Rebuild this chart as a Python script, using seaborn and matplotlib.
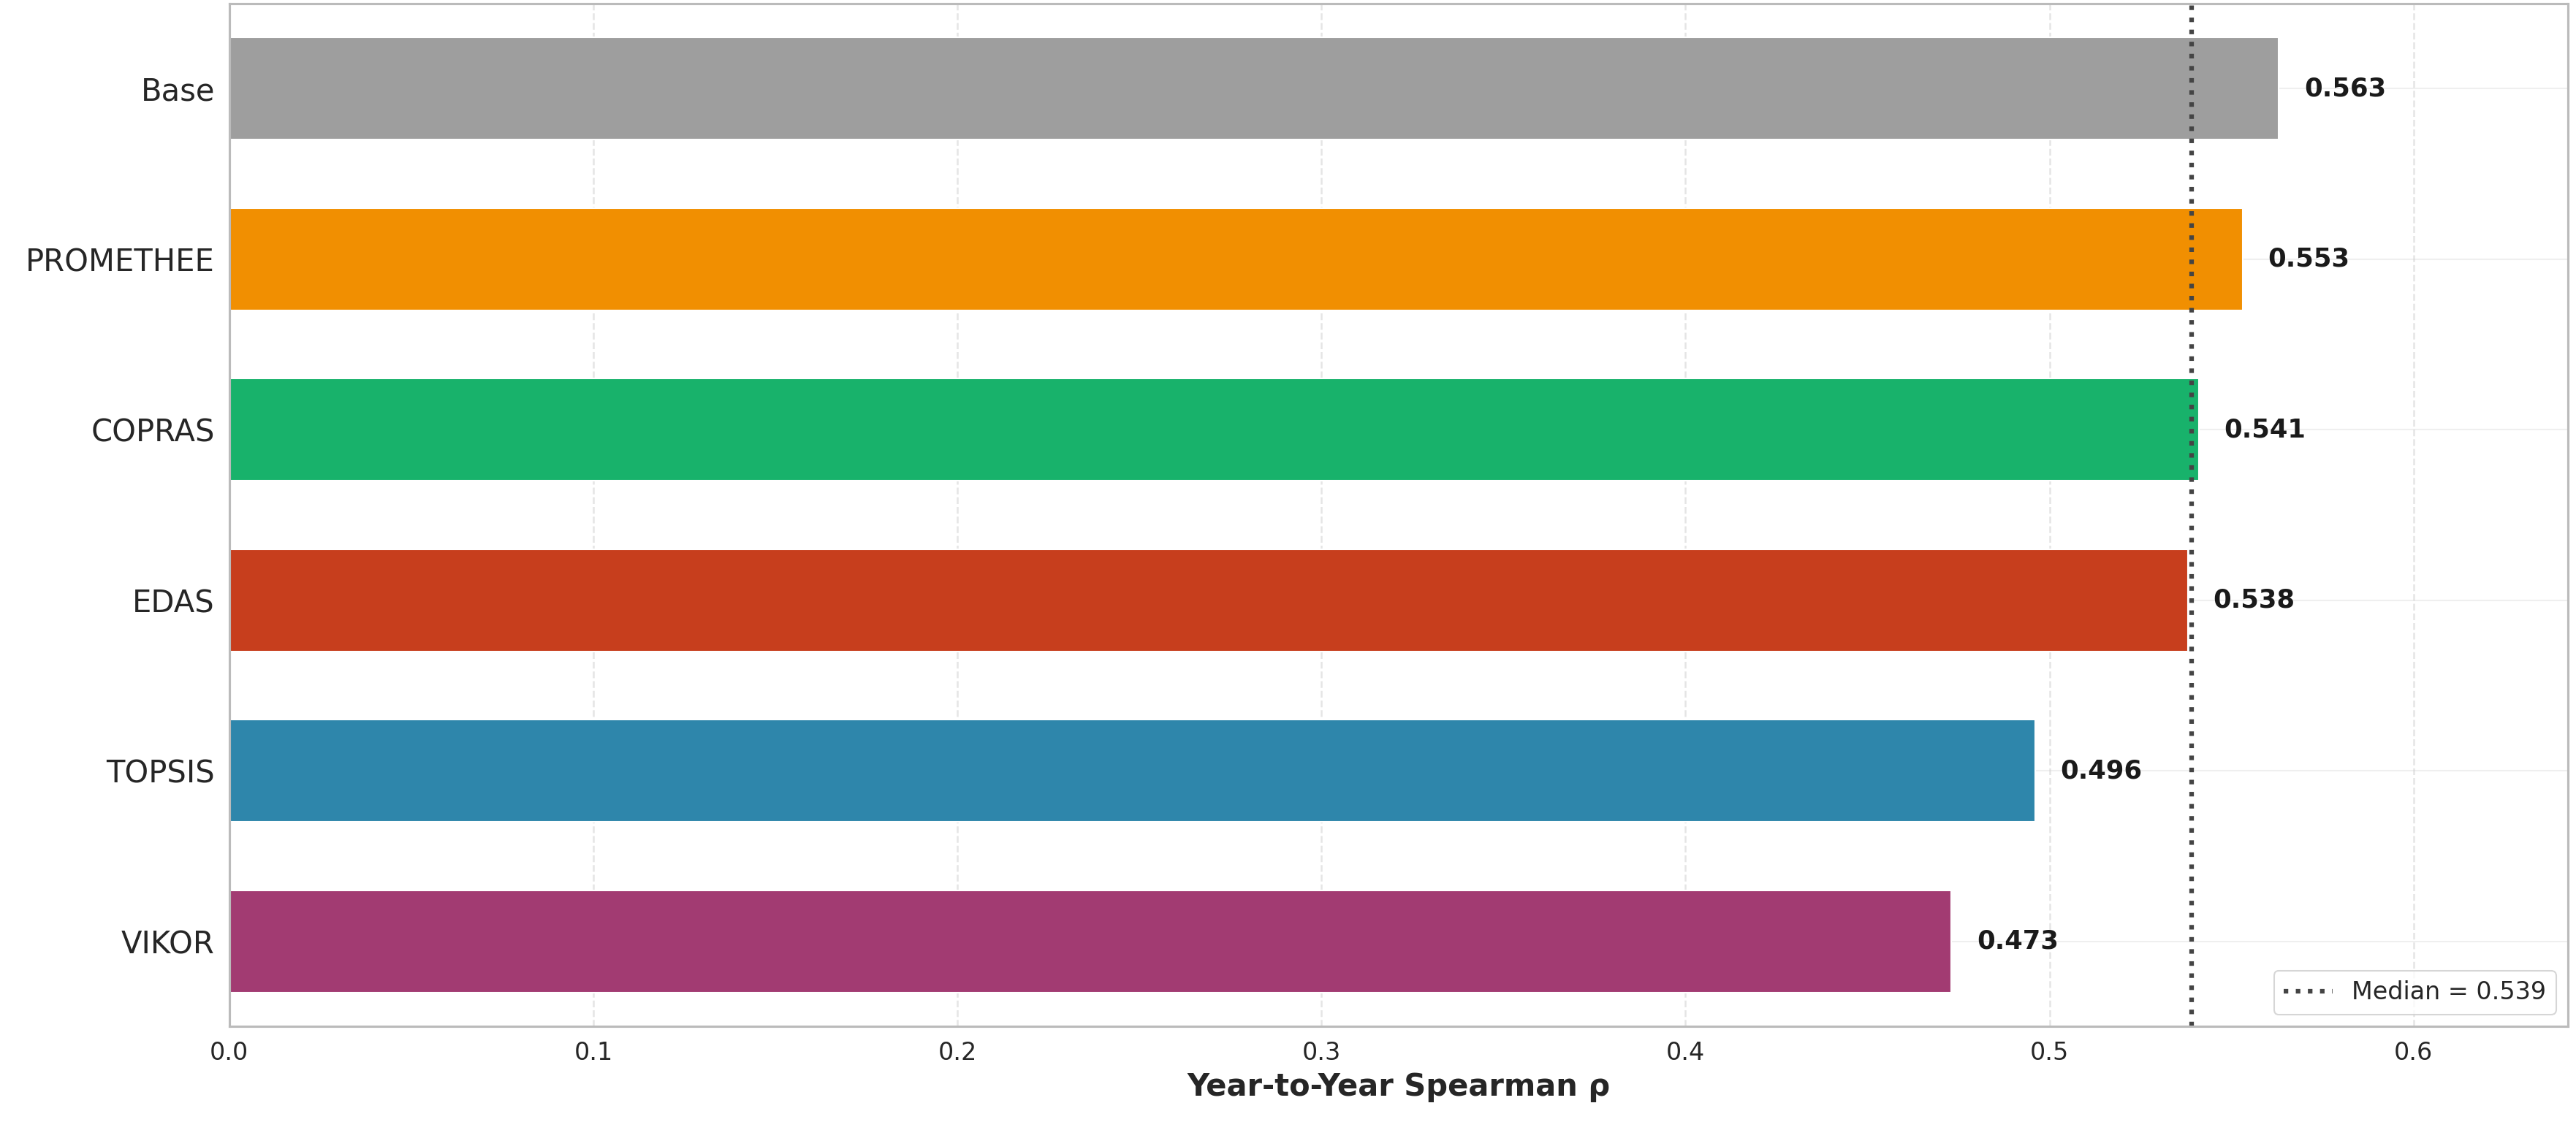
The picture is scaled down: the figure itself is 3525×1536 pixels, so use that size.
import matplotlib
matplotlib.use("Agg")
import matplotlib.pyplot as plt
import seaborn as sns
import pandas as pd

methods = ["Base", "PROMETHEE", "COPRAS", "EDAS", "TOPSIS", "VIKOR"]
values = [0.563, 0.553, 0.541, 0.538, 0.496, 0.473]
colors = ["#9e9e9e", "#f18f01", "#18b26b", "#c73e1d", "#2e86ab", "#a23b72"]
median_val = 0.539

sns.set_theme(style="whitegrid")
plt.rcParams['font.family'] = ['DejaVu Sans']

df = pd.DataFrame({"method": methods, "rho": values})
fig, ax = plt.subplots(figsize=(23.5, 10.24), dpi=150)
fig.subplots_adjust(left=0.089, right=0.997, top=0.997, bottom=0.085)

sns.barplot(data=df, y="method", x="rho", hue="method", palette=colors,
            order=methods, width=0.6, legend=False, ax=ax, saturation=1)

for i, v in enumerate(values):
    ax.text(v + 0.007, i, f"{v:.3f}", va="center", ha="left",
            fontsize=17, fontweight="bold", color="#1a1a1a")

ax.axvline(median_val, color="#444444", linestyle=":", linewidth=3,
           label=f"Median = {median_val:.3f}")
ax.set_xlim(0, 0.6425)
ax.set_xlabel("Year-to-Year Spearman ρ", fontsize=20, fontweight="bold")
ax.set_ylabel("")
ax.tick_params(axis="y", labelsize=20)
ax.tick_params(axis="x", labelsize=16)
ax.grid(axis="x", linestyle="--", alpha=0.5, linewidth=1.2)
ax.grid(axis="y", alpha=0.3)
for s in ax.spines.values():
    s.set_color("#bbbbbb")
    s.set_linewidth(1.5)
ax.legend(loc="lower right", fontsize=16, frameon=True)
fig.savefig("out.png", dpi=150)
